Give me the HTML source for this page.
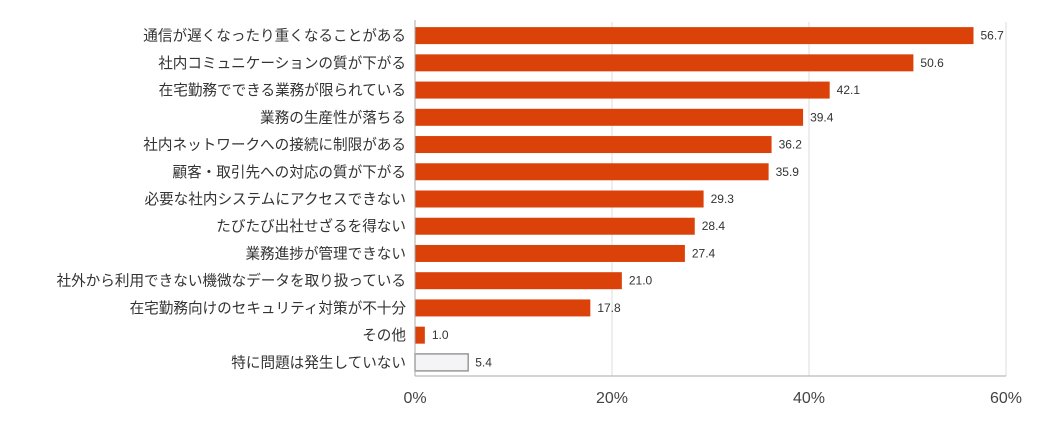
<!DOCTYPE html>
<html><head><meta charset="utf-8"><style>
html,body{margin:0;padding:0;background:#fff;}
svg text{font-family:"Liberation Sans","Noto Sans CJK JP",sans-serif;}
</style></head><body>
<svg id="chart" width="1044" height="422" xmlns="http://www.w3.org/2000/svg"></svg>
<script>
const categories=["通信が遅くなったり重くなることがある","社内コミュニケーションの質が下がる","在宅勤務でできる業務が限られている","業務の生産性が落ちる","社内ネットワークへの接続に制限がある","顧客・取引先への対応の質が下がる","必要な社内システムにアクセスできない","たびたび出社せざるを得ない","業務進捗が管理できない","社外から利用できない機微なデータを取り扱っている","在宅勤務向けのセキュリティ対策が不十分","その他","特に問題は発生していない"];
const values=[56.7,50.6,42.1,39.4,36.2,35.9,29.3,28.4,27.4,21.0,17.8,1.0,5.4];
const tickValues=[0,20,40,60];
const tickLabels=["0%","20%","40%","60%"];
const svgEl=document.getElementById('chart');
const NS='http://www.w3.org/2000/svg';
const x0=415,x1=1006,xMax=60,plotTop=22,plotBottom=376;
const xs=v=>x0+(x1-x0)*v/xMax;
const step=(plotBottom-plotTop)/categories.length;
const yc=i=>plotTop+step*(i+0.5);
function mk(tag,a){const e=document.createElementNS(NS,tag);for(const k in a)e.setAttribute(k,a[k]);svgEl.appendChild(e);return e;}
tickValues.forEach((t,i)=>{
  if(t>0){const g=mk('line',{x1:xs(t),x2:xs(t),y1:plotTop,y2:plotBottom,stroke:'#dcdcdc','stroke-width':1});
  
  }
  const l=mk('text',{x:xs(t),y:403,'text-anchor':'middle','font-size':16,fill:'#444'});
  l.textContent=tickLabels[i];
  
  
});
categories.forEach((c,i)=>{
  const last=i===categories.length-1;
  const r=mk('rect',{x:x0,y:yc(i)-8.5,width:xs(values[i])-x0,height:17,fill:last?'#f4f3f5':'#db4209',stroke:last?'#999':'none','stroke-width':last?1.5:0});
  
  
  const t=mk('text',{x:406,y:yc(i)+5,'text-anchor':'end','font-size':14.6,fill:'#333'});
  t.textContent=c;
  
  
  const v=mk('text',{x:xs(values[i])+7,y:yc(i)+4,'font-size':12,fill:'#333'});
  v.textContent=values[i].toFixed(1);
  
  
});
const ax=mk('line',{x1:x0,x2:x0,y1:plotTop-2,y2:plotBottom,stroke:'#aaa','stroke-width':1});


const bx=mk('line',{x1:x0,x2:x1,y1:plotBottom,y2:plotBottom,stroke:'#aaa','stroke-width':1});


</script>
</body></html>
